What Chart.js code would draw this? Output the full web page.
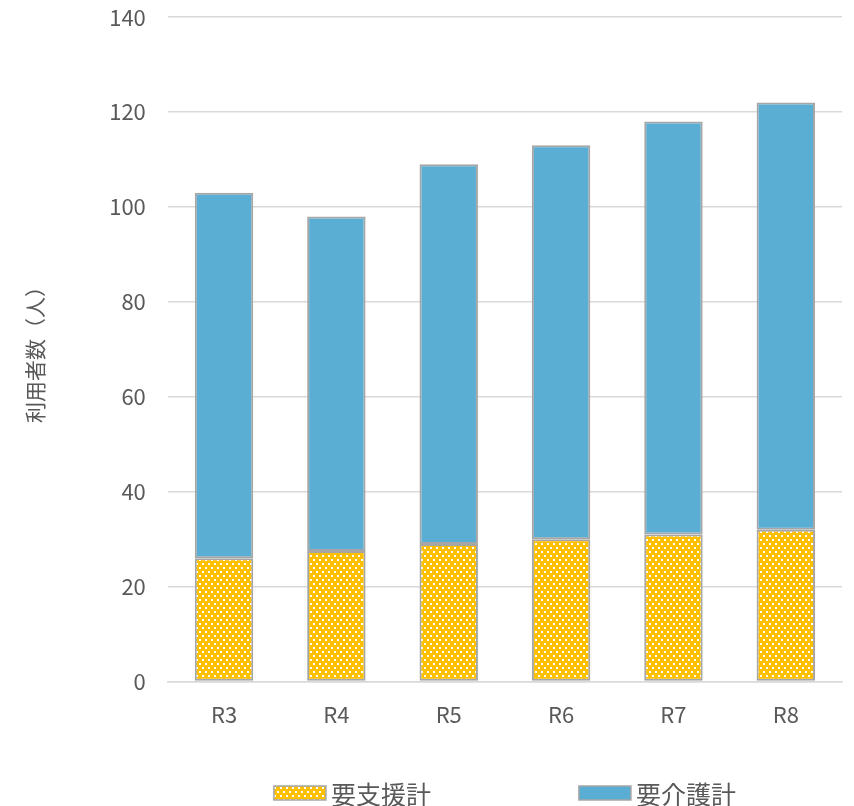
<!DOCTYPE html>
<html>
<head>
<meta charset="utf-8">
<script src="https://cdn.jsdelivr.net/npm/chart.js@4/dist/chart.umd.min.js"></script>
<style>
  html, body { margin: 0; padding: 0; background: #fff; }
  #clip { width: 854px; height: 806px; overflow: hidden; }
  #wrap { width: 854px; height: 824px; margin-top: -18px; }
</style>
</head>
<body>
<div id="clip"><div id="wrap"><canvas id="chartRiyo"></canvas></div></div>
<script>
// ===== DATA =====
const categories = ["R3", "R4", "R5", "R6", "R7", "R8"];
const yoshien = [26, 27.5, 29, 30, 31, 32];
const yokaigo = [77, 70.5, 80, 83, 87, 90];
const yTicks = [0, 20, 40, 60, 80, 100, 120, 140];

const FONT = "'Noto Sans CJK JP', 'Noto Sans', sans-serif";
const TEXT = "#595959";

// ===== dotted pattern for 要支援計 =====
function dotPattern() {
  const c = document.createElement("canvas");
  c.width = 6; c.height = 8;
  const g = c.getContext("2d");
  g.fillStyle = "#ffc000";
  g.fillRect(0, 0, 6, 8);
  g.fillStyle = "#ffffff";
  g.fillRect(1, 1, 2, 2);
  g.fillRect(4, 5, 2, 2);
  return g.createPattern(c, "repeat");
}
const pat = dotPattern();

// ===== legend drawn under the plot =====
const bottomLegend = {
  id: "bottomLegend",
  afterDraw(chart) {
    const ctx = chart.ctx;
    const area = chart.chartArea;
    const boxW = 52, boxH = 14, gapBox = 5, gapItem = 148;
    ctx.save();
    ctx.font = "25px " + FONT;
    ctx.textBaseline = "middle";
    const items = chart.data.datasets.map(d => ({
      label: d.label, fill: d.backgroundColor, w: boxW + gapBox + ctx.measureText(d.label).width
    }));
    const total = items.reduce((s, it) => s + it.w, 0) + gapItem * (items.length - 1);
    let x = (area.left + area.right) / 2 - total / 2;
    const y = 811; // 793 on the page (canvas is shifted up 18px)
    items.forEach(it => {
      ctx.fillStyle = it.fill;
      ctx.fillRect(x, y - boxH / 2, boxW, boxH);
      ctx.strokeStyle = "#a6a6a6";
      ctx.lineWidth = 1.5;
      ctx.strokeRect(x, y - boxH / 2, boxW, boxH);
      ctx.fillStyle = TEXT;
      ctx.fillText(it.label, x + boxW + gapBox, y + 1);
      x += it.w + gapItem;
    });
    ctx.restore();
  }
};

new Chart(document.getElementById("chartRiyo"), {
  type: "bar",
  data: {
    labels: categories,
    datasets: [
      {
        label: "要支援計",
        data: yoshien,
        backgroundColor: pat,
        borderColor: "#a6a6a6",
        borderWidth: 2,
        borderSkipped: false
      },
      {
        label: "要介護計",
        data: yokaigo,
        backgroundColor: "#5aaed3",
        borderColor: "#a6a6a6",
        borderWidth: 2,
        borderSkipped: false
      }
    ]
  },
  options: {
    responsive: true,
    maintainAspectRatio: false,
    animation: false,
    layout: { padding: { top: 0, right: 12, left: 18, bottom: 66 } },
    plugins: {
      legend: { display: false },
      tooltip: { enabled: false }
    },
    datasets: {
      bar: { categoryPercentage: 1, barPercentage: 0.52 }
    },
    scales: {
      x: {
        stacked: true,
        grid: { display: false },
        border: { color: "#d9d9d9", width: 1.5 },
        ticks: { color: TEXT, font: { family: FONT, size: 22 }, padding: 12 }
      },
      y: {
        stacked: true,
        min: 0,
        max: 140,
        afterBuildTicks: axis => { axis.ticks = yTicks.map(v => ({ value: v })); },
        grid: { color: "#d9d9d9", lineWidth: 1.5, drawTicks: false },
        border: { display: false },
        ticks: { color: TEXT, font: { family: FONT, size: 22 }, padding: 22 },
        title: {
          display: true,
          text: "利用者数（人）",
          color: TEXT,
          font: { family: FONT, size: 21 },
          padding: { bottom: 40 }
        }
      }
    }
  },
  plugins: [bottomLegend]
});
</script>
</body>
</html>
